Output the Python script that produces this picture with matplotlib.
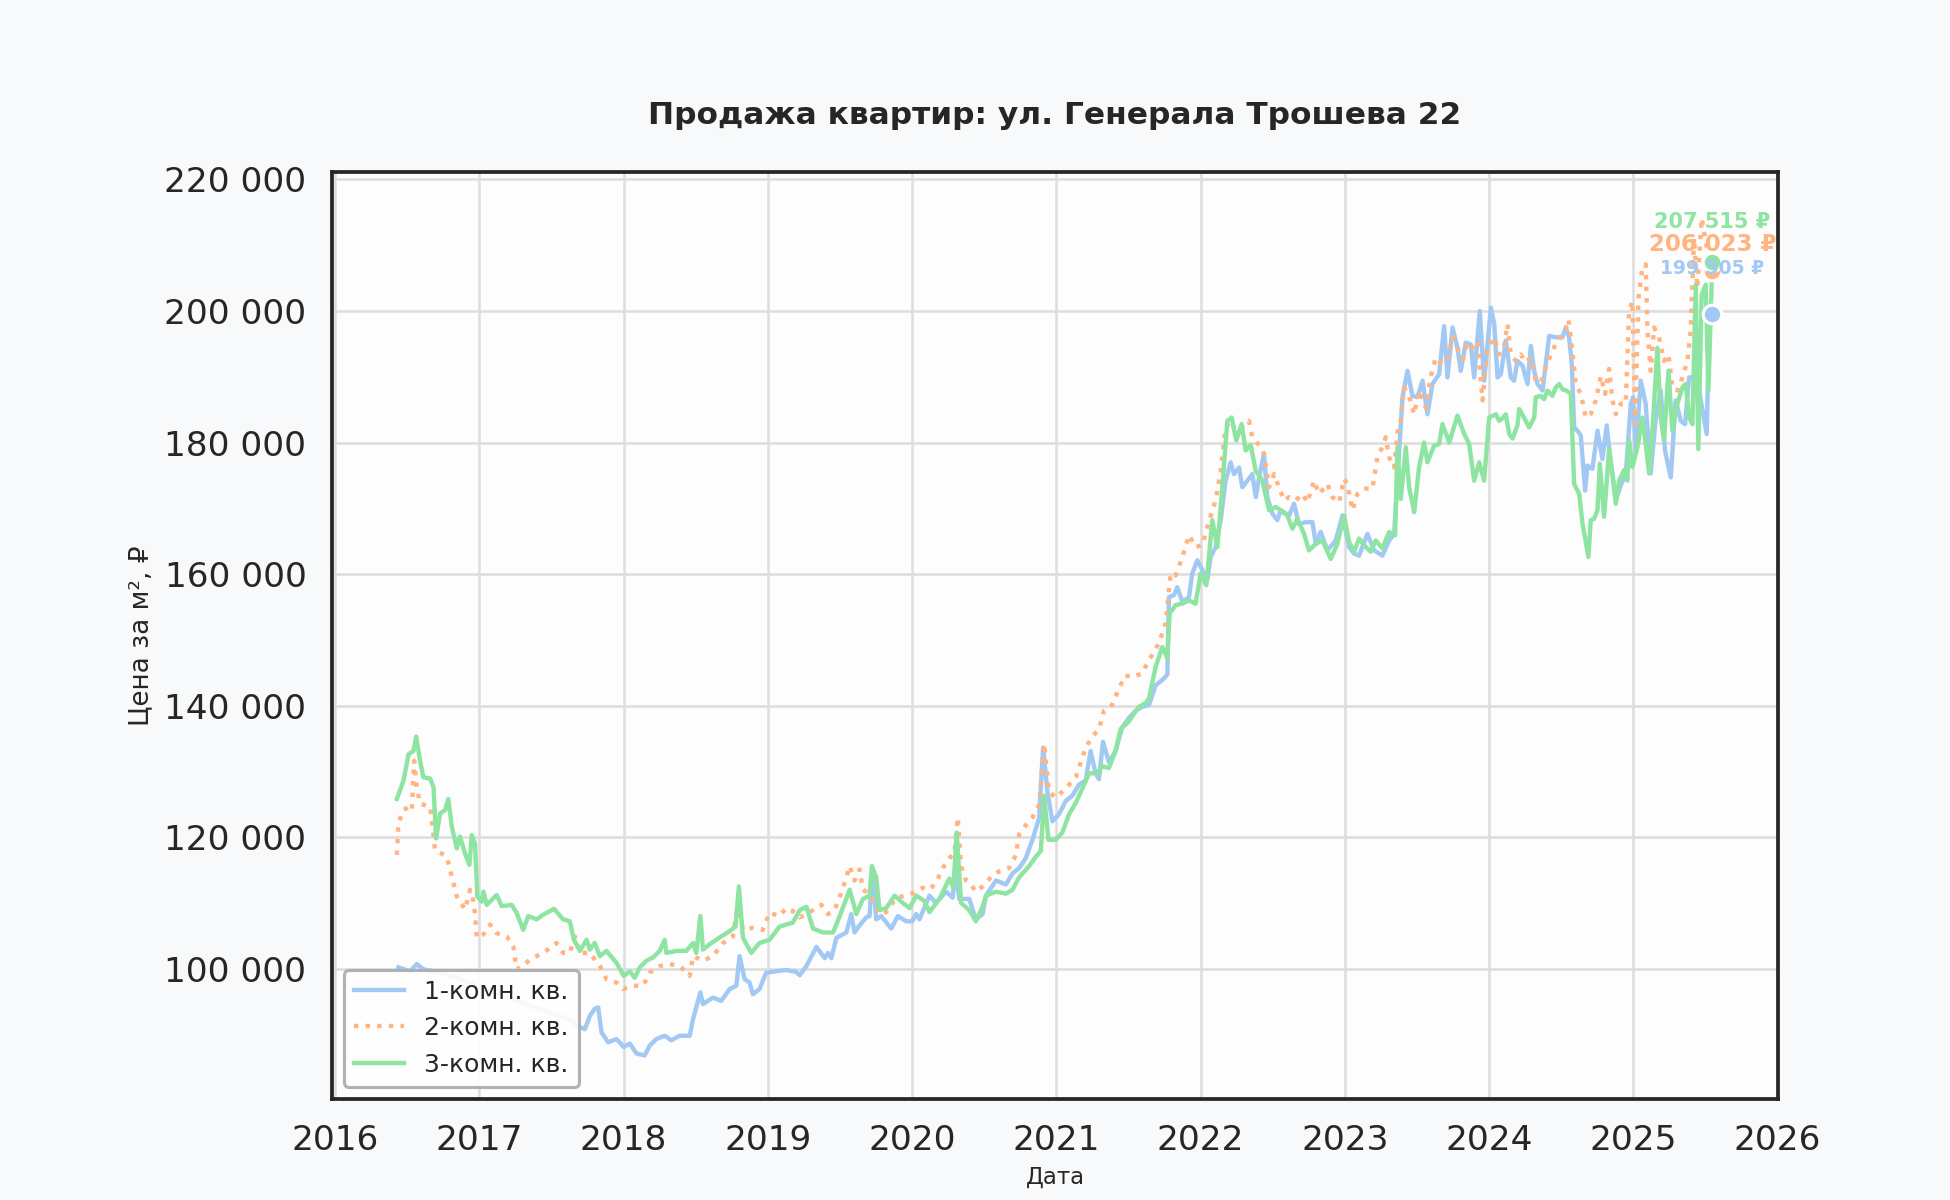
import matplotlib.pyplot as plt
import numpy as np
from matplotlib.ticker import FuncFormatter

# даты в долях года, цена за м2 в тыс. руб.
years_1k = [2016.439, 2016.520, 2016.566, 2016.612, 2016.750, 2016.900, 2017.050, 2017.250, 2017.450, 2017.620,
            2017.697, 2017.731, 2017.766, 2017.800, 2017.824, 2017.847, 2017.893, 2017.950, 2018.001, 2018.043,
            2018.089, 2018.146, 2018.181, 2018.227, 2018.285, 2018.331, 2018.389, 2018.458, 2018.481, 2018.532,
            2018.550, 2018.619, 2018.677, 2018.735, 2018.781, 2018.804, 2018.839, 2018.873, 2018.896, 2018.942,
            2018.988, 2019.058, 2019.127, 2019.196, 2019.221, 2019.267, 2019.336, 2019.394, 2019.417, 2019.440,
            2019.475, 2019.544, 2019.578, 2019.601, 2019.636, 2019.682, 2019.705, 2019.724, 2019.751, 2019.786,
            2019.855, 2019.901, 2019.959, 2020.000, 2020.028, 2020.051, 2020.120, 2020.166, 2020.235, 2020.281,
            2020.300, 2020.327, 2020.396, 2020.442, 2020.488, 2020.512, 2020.581, 2020.650, 2020.696, 2020.742,
            2020.788, 2020.834, 2020.880, 2020.908, 2020.938, 2020.972, 2021.018, 2021.065, 2021.111, 2021.157,
            2021.203, 2021.237, 2021.272, 2021.295, 2021.323, 2021.364, 2021.410, 2021.456, 2021.502, 2021.548,
            2021.594, 2021.642, 2021.688, 2021.734, 2021.769, 2021.780, 2021.815, 2021.838, 2021.873, 2021.919,
            2021.942, 2021.977, 2022.012, 2022.046, 2022.069, 2022.104, 2022.139, 2022.173, 2022.208, 2022.231,
            2022.266, 2022.289, 2022.324, 2022.358, 2022.382, 2022.405, 2022.439, 2022.462, 2022.497, 2022.532,
            2022.555, 2022.613, 2022.647, 2022.682, 2022.728, 2022.775, 2022.798, 2022.832, 2022.879, 2022.936,
            2022.983, 2023.029, 2023.064, 2023.098, 2023.156, 2023.202, 2023.260, 2023.306, 2023.341, 2023.364,
            2023.399, 2023.434, 2023.468, 2023.503, 2023.538, 2023.572, 2023.607, 2023.653, 2023.688, 2023.711,
            2023.746, 2023.780, 2023.803, 2023.838, 2023.873, 2023.896, 2023.935, 2023.965, 2024.012, 2024.035,
            2024.058, 2024.081, 2024.115, 2024.150, 2024.173, 2024.196, 2024.231, 2024.266, 2024.289, 2024.312,
            2024.335, 2024.370, 2024.416, 2024.462, 2024.508, 2024.531, 2024.554, 2024.573, 2024.589, 2024.612,
            2024.635, 2024.665, 2024.681, 2024.716, 2024.751, 2024.785, 2024.815, 2024.843, 2024.878, 2024.912,
            2024.947, 2024.982, 2024.998, 2025.016, 2025.051, 2025.085, 2025.120, 2025.155, 2025.189, 2025.219,
            2025.259, 2025.293, 2025.328, 2025.358, 2025.386, 2025.409, 2025.455, 2025.508, 2025.524, 2025.547]
price_1k = [100.2, 99.6, 100.7, 99.9, 99.3, 98.2, 96.8, 95.2, 93.6, 92.3,
            91.1, 90.8, 92.8, 93.9, 94.1, 90.3, 88.8, 89.3, 88.1, 88.6,
            87.1, 86.8, 88.3, 89.3, 89.8, 89.1, 89.8, 89.8, 92.3, 96.4,
            94.6, 95.6, 95.1, 96.9, 97.4, 101.9, 98.4, 97.9, 96.1, 96.9,
            99.4, 99.6, 99.8, 99.5, 99.0, 100.4, 103.3, 101.6, 102.4, 101.6,
            104.7, 105.5, 108.3, 105.5, 106.6, 107.8, 108.0, 115.3, 107.5, 108.0,
            106.1, 108.0, 107.2, 107.2, 108.3, 107.5, 111.1, 110.0, 111.7, 110.8,
            115.1, 110.6, 110.6, 107.5, 108.3, 111.1, 113.4, 112.8, 114.5, 115.3,
            116.8, 119.6, 122.9, 133.6, 126.9, 122.4, 123.5, 125.5, 126.3, 128.0,
            128.6, 133.1, 129.7, 128.8, 134.5, 131.4, 133.1, 136.7, 138.1, 139.2,
            139.8, 140.1, 143.1, 143.9, 144.7, 156.5, 156.8, 158.0, 155.8, 156.5,
            160.1, 162.1, 160.6, 159.1, 162.6, 164.1, 168.2, 174.2, 177.0, 175.2,
            176.2, 173.2, 174.2, 175.2, 171.7, 174.7, 178.3, 171.7, 169.2, 168.2,
            169.7, 168.9, 170.7, 167.6, 167.9, 167.9, 164.6, 166.4, 163.6, 165.1,
            168.9, 164.1, 163.1, 162.8, 166.1, 163.6, 162.8, 165.1, 166.1, 174.2,
            186.9, 190.9, 187.1, 186.9, 189.4, 184.3, 188.9, 190.4, 197.7, 189.9,
            197.5, 194.4, 190.9, 195.2, 194.9, 189.9, 200.0, 189.4, 200.5, 198.0,
            189.9, 190.4, 195.5, 189.9, 189.4, 192.4, 191.7, 188.9, 194.7, 190.9,
            188.9, 187.9, 196.2, 196.0, 196.0, 197.5, 196.0, 191.9, 182.3, 181.8,
            181.1, 172.7, 176.5, 176.0, 181.8, 177.5, 182.6, 176.8, 171.2, 173.5,
            175.3, 185.9, 186.9, 178.8, 189.4, 185.9, 175.3, 183.8, 187.9, 178.8,
            174.7, 186.4, 183.3, 182.8, 189.9, 189.9, 187.9, 181.3, 197.0, 199.505]

years_2k = [2016.428, 2016.439, 2016.474, 2016.509, 2016.532, 2016.548, 2016.566, 2016.589, 2016.659, 2016.693,
            2016.739, 2016.774, 2016.809, 2016.843, 2016.901, 2016.935, 2016.963, 2016.982, 2017.028, 2017.074,
            2017.120, 2017.189, 2017.235, 2017.258, 2017.304, 2017.351, 2017.443, 2017.535, 2017.581, 2017.627,
            2017.662, 2017.697, 2017.766, 2017.835, 2017.881, 2017.950, 2017.997, 2018.066, 2018.135, 2018.181,
            2018.250, 2018.319, 2018.389, 2018.458, 2018.481, 2018.550, 2018.619, 2018.689, 2018.758, 2018.792,
            2018.827, 2018.896, 2018.965, 2019.012, 2019.081, 2019.127, 2019.196, 2019.221, 2019.313, 2019.371,
            2019.417, 2019.463, 2019.521, 2019.567, 2019.601, 2019.636, 2019.659, 2019.705, 2019.774, 2019.820,
            2019.889, 2019.959, 2020.028, 2020.074, 2020.120, 2020.166, 2020.212, 2020.258, 2020.293, 2020.316,
            2020.339, 2020.373, 2020.408, 2020.442, 2020.488, 2020.558, 2020.604, 2020.673, 2020.719, 2020.742,
            2020.788, 2020.834, 2020.880, 2020.915, 2020.949, 2020.995, 2021.065, 2021.134, 2021.203, 2021.249,
            2021.295, 2021.329, 2021.387, 2021.433, 2021.479, 2021.525, 2021.594, 2021.642, 2021.711, 2021.757,
            2021.792, 2021.827, 2021.873, 2021.919, 2021.965, 2022.012, 2022.046, 2022.081, 2022.104, 2022.139,
            2022.173, 2022.208, 2022.243, 2022.289, 2022.335, 2022.358, 2022.405, 2022.439, 2022.474, 2022.509,
            2022.543, 2022.578, 2022.613, 2022.659, 2022.705, 2022.740, 2022.786, 2022.821, 2022.879, 2022.913,
            2022.960, 2022.994, 2023.017, 2023.052, 2023.087, 2023.133, 2023.191, 2023.225, 2023.260, 2023.283,
            2023.306, 2023.341, 2023.364, 2023.387, 2023.410, 2023.445, 2023.480, 2023.514, 2023.561, 2023.595,
            2023.630, 2023.676, 2023.711, 2023.746, 2023.780, 2023.815, 2023.850, 2023.884, 2023.919, 2023.954,
            2023.988, 2024.035, 2024.069, 2024.104, 2024.127, 2024.150, 2024.185, 2024.219, 2024.254, 2024.289,
            2024.323, 2024.358, 2024.393, 2024.427, 2024.473, 2024.520, 2024.550, 2024.577, 2024.600, 2024.635,
            2024.670, 2024.704, 2024.739, 2024.774, 2024.804, 2024.831, 2024.855, 2024.878, 2024.912, 2024.947,
            2024.970, 2024.993, 2025.012, 2025.035, 2025.062, 2025.085, 2025.097, 2025.120, 2025.143, 2025.178,
            2025.212, 2025.243, 2025.270, 2025.305, 2025.340, 2025.374, 2025.397, 2025.420, 2025.443, 2025.473,
            2025.501, 2025.524, 2025.547]
price_2k = [117.3, 122.1, 124.1, 124.6, 124.1, 131.6, 127.6, 125.1, 124.6, 118.0,
            117.5, 117.0, 114.0, 111.0, 109.0, 112.0, 110.0, 104.7, 105.2, 106.7,
            105.4, 104.9, 103.4, 99.9, 100.4, 101.4, 102.4, 103.9, 102.4, 102.4,
            104.9, 102.4, 102.4, 100.4, 98.4, 97.9, 96.9, 97.4, 97.4, 99.4,
            100.4, 100.7, 100.4, 98.9, 101.9, 101.2, 101.9, 103.9, 104.9, 110.0,
            105.9, 106.2, 105.9, 108.5, 108.0, 109.2, 108.5, 107.8, 108.9, 109.7,
            108.3, 108.9, 112.3, 115.6, 113.4, 115.1, 112.0, 111.4, 108.3, 108.6,
            110.8, 111.1, 111.7, 112.3, 112.0, 113.1, 115.3, 116.8, 117.6, 123.0,
            115.6, 113.4, 112.8, 111.7, 112.5, 114.2, 114.8, 115.3, 117.3, 120.4,
            121.8, 123.0, 124.9, 134.2, 126.9, 126.0, 127.4, 129.1, 133.6, 135.3,
            136.4, 139.2, 140.1, 142.6, 144.6, 144.3, 144.9, 146.9, 149.5, 152.5,
            160.1, 159.8, 162.6, 165.9, 164.1, 164.4, 167.1, 169.7, 171.2, 175.7,
            182.3, 183.3, 181.8, 182.3, 183.3, 180.8, 179.6, 178.3, 173.2, 175.2,
            173.2, 171.2, 171.7, 171.2, 172.2, 170.9, 174.2, 172.2, 173.7, 171.7,
            170.9, 174.5, 173.7, 169.7, 172.2, 173.0, 173.0, 177.8, 179.3, 180.8,
            177.8, 176.2, 181.5, 183.3, 188.4, 187.1, 184.3, 187.9, 185.3, 190.0,
            192.9, 191.9, 192.4, 196.0, 194.4, 192.7, 195.2, 194.4, 195.4, 186.4,
            194.4, 196.0, 193.4, 194.7, 198.0, 193.4, 192.4, 193.4, 192.2, 192.9,
            189.4, 189.1, 191.4, 193.4, 195.5, 196.5, 198.7, 193.9, 188.9, 187.4,
            183.8, 184.3, 186.4, 190.1, 187.4, 191.2, 186.4, 184.3, 185.9, 185.9,
            200.0, 201.5, 182.8, 202.0, 206.6, 207.1, 197.0, 190.9, 197.5, 196.0,
            192.4, 193.4, 188.4, 187.9, 189.9, 192.4, 197.0, 211.1, 203.5, 214.1,
            210.6, 208.1, 206.023]

years_3k = [2016.428, 2016.474, 2016.509, 2016.543, 2016.562, 2016.589, 2016.612, 2016.659, 2016.682, 2016.700,
            2016.728, 2016.762, 2016.785, 2016.809, 2016.843, 2016.866, 2016.901, 2016.931, 2016.947, 2016.970,
            2016.986, 2017.016, 2017.028, 2017.051, 2017.120, 2017.155, 2017.224, 2017.258, 2017.304, 2017.339,
            2017.397, 2017.443, 2017.517, 2017.581, 2017.627, 2017.655, 2017.697, 2017.743, 2017.766, 2017.800,
            2017.835, 2017.881, 2017.950, 2018.001, 2018.043, 2018.077, 2018.112, 2018.158, 2018.204, 2018.250,
            2018.285, 2018.296, 2018.366, 2018.435, 2018.481, 2018.504, 2018.532, 2018.550, 2018.596, 2018.642,
            2018.735, 2018.776, 2018.799, 2018.827, 2018.885, 2018.942, 2019.012, 2019.081, 2019.173, 2019.221,
            2019.267, 2019.313, 2019.382, 2019.452, 2019.498, 2019.567, 2019.613, 2019.659, 2019.705, 2019.721,
            2019.751, 2019.774, 2019.820, 2019.878, 2019.935, 2019.982, 2020.028, 2020.085, 2020.120, 2020.189,
            2020.258, 2020.286, 2020.309, 2020.339, 2020.396, 2020.442, 2020.488, 2020.512, 2020.581, 2020.650,
            2020.696, 2020.742, 2020.811, 2020.857, 2020.892, 2020.915, 2020.945, 2020.995, 2021.041, 2021.088,
            2021.134, 2021.180, 2021.226, 2021.283, 2021.318, 2021.364, 2021.410, 2021.445, 2021.502, 2021.571,
            2021.618, 2021.642, 2021.688, 2021.734, 2021.769, 2021.785, 2021.827, 2021.873, 2021.919, 2021.965,
            2022.000, 2022.039, 2022.081, 2022.116, 2022.150, 2022.185, 2022.215, 2022.247, 2022.284, 2022.312,
            2022.347, 2022.382, 2022.428, 2022.474, 2022.520, 2022.555, 2022.601, 2022.636, 2022.671, 2022.717,
            2022.751, 2022.798, 2022.844, 2022.902, 2022.948, 2022.994, 2023.029, 2023.064, 2023.098, 2023.145,
            2023.179, 2023.214, 2023.260, 2023.306, 2023.348, 2023.364, 2023.387, 2023.422, 2023.445, 2023.480,
            2023.514, 2023.549, 2023.572, 2023.618, 2023.653, 2023.676, 2023.723, 2023.780, 2023.827, 2023.861,
            2023.896, 2023.931, 2023.965, 2024.000, 2024.046, 2024.069, 2024.097, 2024.115, 2024.139, 2024.162,
            2024.196, 2024.208, 2024.242, 2024.277, 2024.312, 2024.323, 2024.358, 2024.381, 2024.404, 2024.439,
            2024.462, 2024.485, 2024.508, 2024.536, 2024.566, 2024.589, 2024.624, 2024.647, 2024.688, 2024.704,
            2024.727, 2024.751, 2024.767, 2024.797, 2024.831, 2024.855, 2024.878, 2024.901, 2024.935, 2024.958,
            2024.970, 2024.993, 2025.028, 2025.062, 2025.085, 2025.109, 2025.132, 2025.166, 2025.189, 2025.212,
            2025.243, 2025.270, 2025.305, 2025.340, 2025.363, 2025.386, 2025.409, 2025.432, 2025.450, 2025.473,
            2025.501, 2025.520, 2025.547]
price_3k = [125.8, 128.6, 132.6, 133.1, 135.3, 131.6, 129.1, 128.9, 127.6, 119.8,
            123.6, 124.1, 125.8, 121.6, 118.3, 120.1, 117.5, 115.8, 120.3, 119.0,
            111.0, 110.2, 111.7, 109.7, 111.2, 109.5, 109.7, 108.5, 105.9, 108.0,
            107.5, 108.2, 109.1, 107.5, 107.2, 104.4, 102.7, 104.4, 102.9, 103.9,
            101.9, 102.7, 100.9, 98.9, 99.6, 98.6, 100.2, 101.2, 101.7, 102.7,
            104.4, 102.4, 102.7, 102.7, 103.9, 102.4, 108.0, 102.9, 103.7, 104.4,
            105.7, 106.4, 112.5, 104.7, 102.4, 103.9, 104.4, 106.4, 107.0, 108.9,
            109.4, 106.1, 105.5, 105.5, 108.0, 112.0, 108.3, 110.6, 111.1, 115.6,
            113.9, 108.9, 109.2, 111.1, 110.0, 109.2, 111.1, 110.3, 108.6, 110.6,
            113.7, 112.3, 120.7, 110.0, 108.9, 107.2, 109.4, 111.1, 111.7, 111.4,
            112.0, 113.9, 115.6, 117.0, 117.9, 126.3, 119.6, 119.6, 120.7, 123.5,
            125.2, 127.4, 129.7, 129.7, 130.8, 130.5, 133.1, 136.4, 137.6, 139.8,
            140.4, 141.1, 145.9, 148.9, 147.2, 154.0, 155.3, 155.5, 156.0, 155.5,
            160.1, 158.3, 168.2, 164.1, 173.2, 183.3, 183.8, 180.3, 182.8, 178.8,
            179.6, 175.7, 174.2, 169.7, 170.2, 169.7, 168.9, 166.9, 168.4, 166.1,
            163.6, 164.6, 165.1, 162.3, 164.6, 168.9, 164.9, 163.4, 165.4, 164.1,
            163.4, 165.1, 163.9, 166.4, 165.9, 179.3, 171.4, 179.3, 173.2, 169.4,
            176.2, 180.0, 177.0, 179.5, 179.8, 182.8, 180.0, 184.1, 181.3, 179.8,
            174.2, 177.0, 174.2, 183.8, 184.3, 183.3, 183.8, 184.3, 181.3, 180.6,
            182.6, 185.1, 183.8, 182.3, 183.8, 186.9, 187.1, 186.6, 187.9, 187.1,
            188.4, 188.9, 188.1, 187.9, 187.4, 173.7, 172.2, 167.7, 162.6, 168.2,
            168.4, 169.7, 176.8, 168.7, 179.0, 175.3, 170.7, 174.2, 175.8, 174.2,
            180.3, 176.3, 179.3, 183.8, 179.8, 175.3, 181.8, 194.4, 183.8, 180.3,
            190.9, 181.8, 185.9, 188.4, 188.9, 183.8, 182.8, 204.0, 179.0, 202.5,
            204.0, 187.9, 207.515]

labels = ["1-комн. кв.", "2-комн. кв.", "3-комн. кв."]
colors = ["#a1c9f4", "#ffb482", "#8de5a1"]
styles = ["-", ":", "-"]
# смещение и размер подписей последней цены
label_offsets = [22, 13, 19]
label_sizes = [9, 11, 10]

series = [(years_1k, price_1k), (years_2k, price_2k), (years_3k, price_3k)]

fig, ax = plt.subplots(figsize=(13, 8), dpi=150)
fig.patch.set_facecolor("#f8f9fa")
ax.set_facecolor("#fdfdfd")
fig.subplots_adjust(left=0.17, right=0.912, top=0.857, bottom=0.084)

for (x, y), lab, c, ls in zip(series, labels, colors, styles):
    y = np.array(y) * 1000
    ax.plot(x, y, ls, color=c, lw=2.1, label=lab)

for (x, y), c, off, fs in zip(series, colors, label_offsets, label_sizes):
    xe, ye = x[-1], y[-1] * 1000
    ax.scatter([xe], [ye], s=80, color=c, edgecolor="white", linewidth=1.5, zorder=5)
    ax.annotate("{:,.0f} ₽".format(ye).replace(",", " "), (xe, ye), xytext=(0, off),
                textcoords="offset points", ha="center", va="center",
                fontsize=fs, fontweight="bold", color=c, zorder=6)

ax.set_xlim(2015.975, 2026.005)
ax.set_ylim(80150, 221200)
ax.set_xticks(range(2016, 2027))
ax.xaxis.set_major_formatter(FuncFormatter(lambda v, p: "%d" % v))
ax.yaxis.set_major_formatter(FuncFormatter(lambda v, p: "{:,.0f}".format(v).replace(",", " ")))
ax.tick_params(length=0, pad=12, labelsize=16.5, colors="#262626")
ax.grid(True, color="#dddddd", lw=1.2)
ax.set_axisbelow(True)
for s in ax.spines.values():
    s.set_color("#262626")
    s.set_linewidth(1.8)

ax.set_title("Продажа квартир: ул. Генерала Трошева 22", fontsize=15, fontweight="bold",
             color="#262626", pad=23)
ax.set_xlabel("Дата", fontsize=11, color="#262626", labelpad=4)
ax.set_ylabel("Цена за м², ₽", fontsize=12.6, color="#262626", labelpad=5)

leg = ax.legend(loc="lower left", fontsize=12, frameon=True, framealpha=0.9)
leg.get_frame().set_edgecolor("#aaaaaa")
leg.get_frame().set_linewidth(1.5)
for t in leg.get_texts():
    t.set_color("#262626")

plt.savefig("out.png", dpi=150, facecolor=fig.get_facecolor())
